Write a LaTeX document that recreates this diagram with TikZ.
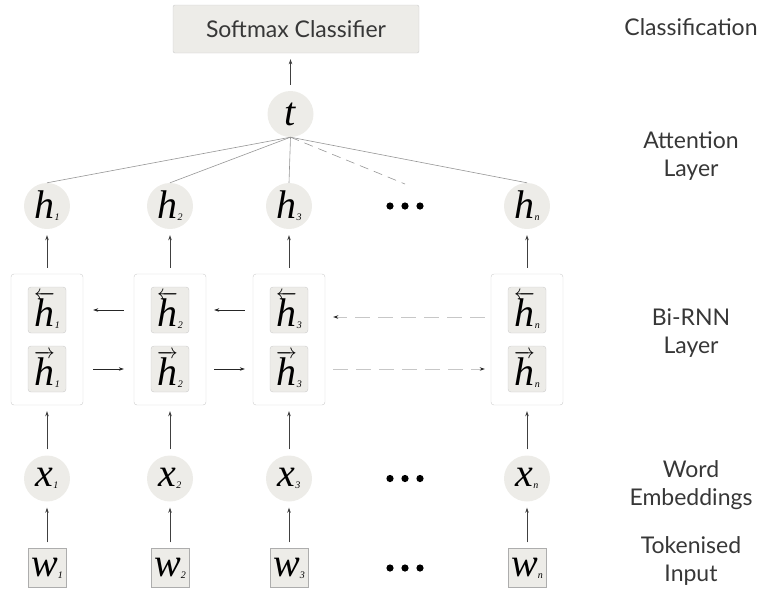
\documentclass[tikz,border=0pt]{standalone}
\usepackage{fontspec}
\setmainfont{Lato}
\newfontfamily\letterfamily{Liberation Serif Italic}
\usepackage{tikz}
\usetikzlibrary{calc,positioning,arrows.meta}
\definecolor{cellfill}{RGB}{237,236,232}
\definecolor{cellline}{RGB}{204,204,204}
\definecolor{wireline}{RGB}{150,150,150}
\definecolor{labeltext}{RGB}{55,55,55}
\newcommand\letr[1]{{\fontsize{40}{40}\selectfont\letterfamily #1}}
\newcommand\subs[1]{\raisebox{-2pt}{\fontsize{10}{10}\selectfont\letterfamily #1}}
\newcommand\lvec[1]{{\fontsize{22}{22}\selectfont$\overleftarrow{\hbox{\letr{#1}}}$}}
\newcommand\rvec[1]{{\fontsize{22}{22}\selectfont$\overrightarrow{\hbox{\letr{#1}}}$}}
\tikzset{
  cnode/.style={circle, fill=cellfill, inner sep=0pt, minimum size=46pt},
  wbox/.style={draw=cellline!85!black, fill=cellfill, inner sep=0pt,
               minimum width=38pt, minimum height=39pt},
  hbox/.style={draw=cellline, fill=cellfill, rounded corners=3pt, inner sep=0pt,
               minimum width=38pt, minimum height=46pt},
  rnnbox/.style={draw=cellline, rounded corners=3pt, minimum width=72pt, minimum height=131pt},
  smbox/.style={draw=cellline, fill=cellfill, rounded corners=2pt, minimum width=246pt,
                minimum height=48pt, font=\fontsize{23}{27}\selectfont, text=labeltext},
  layerlabel/.style={align=center, font=\fontsize{23}{28}\selectfont, text=labeltext},
  attedge/.style={wireline, line width=0.6pt},
  attdash/.style={attedge, dash pattern=on 9pt off 6pt},
  uparrow/.style={black!75, line width=0.7pt, -{Stealth[length=5pt,width=3.5pt]},
                  shorten <=6pt, shorten >=6pt},
  sidearrow/.style={black!85, line width=0.6pt, -{Stealth[length=5pt,width=3.5pt]}},
  sidedash/.style={black!22, line width=0.8pt, dash pattern=on 15pt off 8pt,
                   -{Stealth[length=5pt,width=3.5pt,color=black!85]}},
}

\begin{document}
\begin{tikzpicture}[x=1pt,y=-1pt]
  \useasboundingbox (0,0) rectangle (760,590);
  % classifier and attention vector
  \node[smbox] (soft) at (296,29) {Softmax Classifier};
  \node[cnode] (t) at (290.5,114) {\letr{t}};
  \draw[uparrow] (t.north) -- (t |- soft.south);
  % hidden states
  \node[cnode] (h1) at (47,206) {\letr{h}\subs{1}};
  \node[cnode] (h2) at (170,206) {\letr{h}\subs{2}};
  \node[cnode] (h3) at (289,206) {\letr{h}\subs{3}};
  \coordinate (hdots) at (405,206);
  \node[cnode] (hn) at (527,206) {\letr{h}\subs{n}};
  \foreach \dx in {-15,0,15} \fill ($(hdots)+(\dx,0)$) circle (3.6pt);
  \draw[attedge] (t.south) -- (h1.north);
  \draw[attedge] (t.south) -- (h2.north);
  \draw[attedge] (t.south) -- (h3.north);
  \draw[attedge] (t.south) -- (hn.north);
  \draw[attdash] (t.south) -- ([yshift=22pt]hdots);
  % bi-rnn cells
  \node[rnnbox] (r1) at (47,339.5) {};
  \node[hbox] (b1) at (47,310) {\lvec{h}\subs{1}};
  \node[hbox] (f1) at (47,369) {\rvec{h}\subs{1}};
  \node[rnnbox] (r2) at (170,339.5) {};
  \node[hbox] (b2) at (170,310) {\lvec{h}\subs{2}};
  \node[hbox] (f2) at (170,369) {\rvec{h}\subs{2}};
  \node[rnnbox] (r3) at (289,339.5) {};
  \node[hbox] (b3) at (289,310) {\lvec{h}\subs{3}};
  \node[hbox] (f3) at (289,369) {\rvec{h}\subs{3}};
  \node[rnnbox] (rn) at (527,339.5) {};
  \node[hbox] (bn) at (527,310) {\lvec{h}\subs{n}};
  \node[hbox] (fn) at (527,369) {\rvec{h}\subs{n}};
  \draw[uparrow] (r1.north) -- (h1.south);
  \draw[uparrow] (r2.north) -- (h2.south);
  \draw[uparrow] (r3.north) -- (h3.south);
  \draw[uparrow] (rn.north) -- (hn.south);
  % recurrent links
  \draw[sidearrow] ([xshift=-10pt]r2.west |- b2) -- ([xshift=10pt]r1.east |- b1);
  \draw[sidearrow] ([xshift=10pt]r1.east |- f1) -- ([xshift=-10pt]r2.west |- f2);
  \draw[sidearrow] ([xshift=-8pt]r3.west |- b3) -- ([xshift=8pt]r2.east |- b2);
  \draw[sidearrow] ([xshift=8pt]r2.east |- f2) -- ([xshift=-8pt]r3.west |- f3);
  \draw[sidedash] ([xshift=-6pt,yshift=-7pt]rn.west |- bn) -- ([xshift=8pt,yshift=-7pt]r3.east |- b3);
  \draw[sidedash] ([xshift=8pt]r3.east |- f3) -- ([xshift=-6pt]rn.west |- fn);
  % embeddings
  \node[cnode] (x1) at (47,478.5) {\letr{x}\subs{1}};
  \node[cnode] (x2) at (170,478.5) {\letr{x}\subs{2}};
  \node[cnode] (x3) at (289,478.5) {\letr{x}\subs{3}};
  \coordinate (xdots) at (405,478.5);
  \node[cnode] (xn) at (527,478.5) {\letr{x}\subs{n}};
  \foreach \dx in {-15,0,15} \fill ($(xdots)+(\dx,0)$) circle (3.6pt);
  \draw[uparrow] (x1.north) -- (r1.south);
  \draw[uparrow] (x2.north) -- (r2.south);
  \draw[uparrow] (x3.north) -- (r3.south);
  \draw[uparrow] (xn.north) -- (rn.south);
  % tokens
  \node[wbox] (w1) at (47,568) {\letr{w}\subs{1}};
  \node[wbox] (w2) at (170,568) {\letr{w}\subs{2}};
  \node[wbox] (w3) at (289,568) {\letr{w}\subs{3}};
  \coordinate (wdots) at (405,568);
  \node[wbox] (wn) at (527,568) {\letr{w}\subs{n}};
  \foreach \dx in {-15,0,15} \fill ($(wdots)+(\dx,0)$) circle (3.6pt);
  \draw[uparrow] (w1.north) -- (x1.south);
  \draw[uparrow] (w2.north) -- (x2.south);
  \draw[uparrow] (w3.north) -- (x3.south);
  \draw[uparrow] (wn.north) -- (xn.south);
  % layer names
  \node[layerlabel] (lclass) at (691,27) {Classification};
  \node[layerlabel] (latt) at (691,156) {Attention\\Layer};
  \node[layerlabel] (lrnn) at (691,333) {Bi-RNN\\Layer};
  \node[layerlabel] (lemb) at (691,485) {Word\\Embeddings};
  \node[layerlabel] (linp) at (691,561) {Tokenised\\Input};
\end{tikzpicture}
\end{document}
